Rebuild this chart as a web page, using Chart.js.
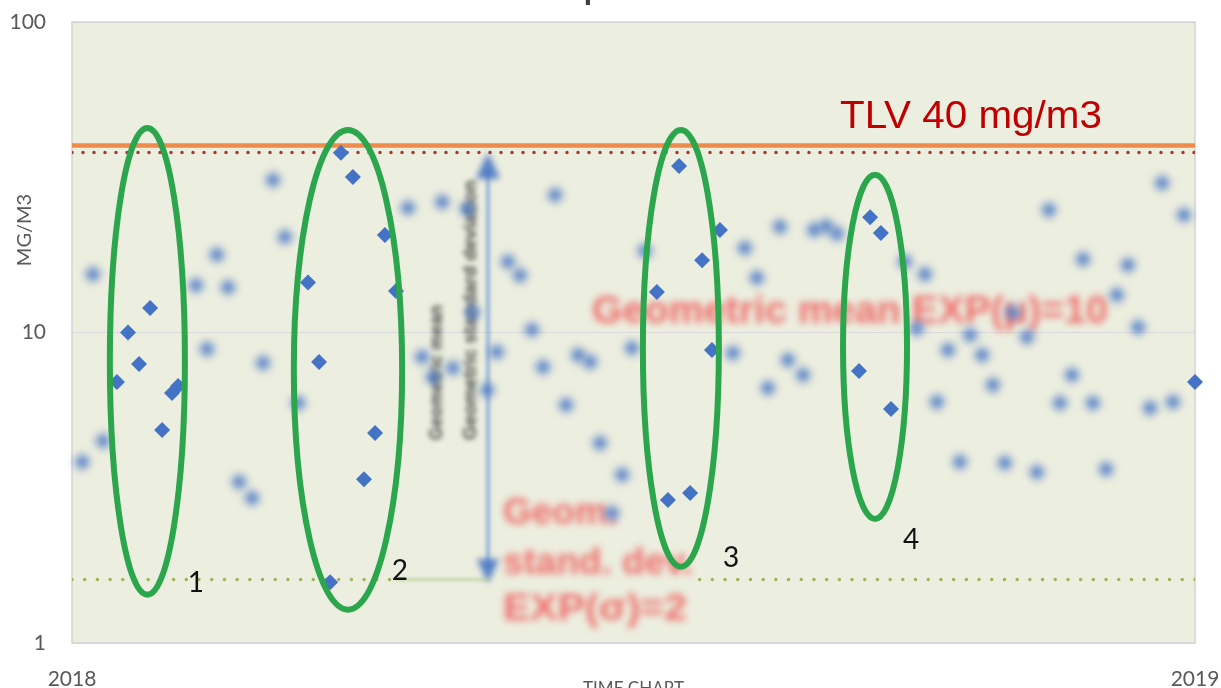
<!DOCTYPE html>
<html>
<head>
<meta charset="utf-8">
<script src="https://cdn.jsdelivr.net/npm/chart.js@4.4.1/dist/chart.umd.min.js"></script>
<style>
  html, body { margin: 0; padding: 0; width: 1221px; height: 688px; overflow: hidden; background: #fff; }
  #wrap { width: 1221px; height: 700px; }
</style>
</head>
<body>
<div id="wrap"><canvas id="c" width="1221" height="700"></canvas></div>
<script>
// Measurements: day of the year and concentration in mg/m3
const groupedDays = [14.6, 18.2, 25.4, 21.8, 32.5, 34.5, 29.3,
  87.4, 91.3, 101.7, 76.7, 80.3, 98.5, 94.9, 83.9, 105.3,
  197.3, 204.8, 210.6, 190.1, 208.0, 193.7, 200.9,
  259.4, 262.9, 255.8, 266.2, 365];
const groupedValues = [6.93, 10.0, 12.0, 7.92, 6.39, 6.73, 4.85,
  37.9, 31.7, 20.6, 14.5, 8.04, 4.75, 3.37, 1.57, 13.6,
  34.4, 17.1, 21.4, 13.5, 8.78, 2.89, 3.04,
  23.5, 20.9, 7.52, 5.67, 6.93];

const otherDays = [3.3, 6.8, 10.1, 40.3, 43.9, 47.1, 50.7, 54.3, 58.5, 62.1, 65.3, 69.2, 73.5,
  109.2, 120.3, 128.4, 113.8, 123.8, 117.3, 130.3, 138.1, 134.9, 141.7, 145.6, 149.5, 153.1,
  157.0, 160.6, 164.5, 168.4, 171.6, 175.5, 178.8, 182.0, 186.2,
  214.8, 218.7, 222.6, 226.2, 230.1, 232.7, 237.6, 241.2, 245.1, 248.6,
  270.7, 277.2, 274.6, 281.1, 284.7, 288.6, 291.9, 295.8, 299.3, 303.2, 305.8, 310.4, 313.6,
  317.5, 321.1, 325.0, 328.6, 331.8, 336.1, 339.6, 343.2, 346.5, 350.4, 354.3, 357.8, 361.4];
const otherValues = [3.83, 15.4, 4.47, 14.2, 8.85, 17.8, 14.0, 3.30, 2.93, 7.98, 31.0, 20.3, 5.93,
  25.2, 26.3, 25.0, 8.34, 7.69, 7.19, 11.6, 8.65, 6.53, 16.9, 15.3, 10.2, 7.74,
  27.7, 5.84, 8.46, 8.04, 4.41, 2.62, 3.48, 8.91, 18.3,
  8.59, 18.7, 15.0, 6.63, 21.9, 8.15, 7.30, 21.4, 22.0, 20.8,
  16.9, 15.4, 10.3, 5.97, 8.78, 3.83, 9.81, 8.46, 6.78, 3.80, 11.6, 9.67, 3.55,
  24.8, 5.93, 7.30, 17.2, 5.93, 3.63, 13.2, 16.5, 10.4, 5.71, 30.3, 5.97, 23.9];

const yTickValues = [1, 10, 100];
const xTickLabels = ['2018', '2019'];

// Reference levels (mg/m3)
const tlvLevel = 40;
const upperLevel = 38;
const lowerLevel = 1.6;

// Circled groups: centre day, half width in days, top and bottom value
const groupNames = ['1', '2', '3', '4'];
const groupCenters = [24.5, 89.7, 197.9, 261.0];
const groupHalfWidths = [12.2, 17.6, 12.35, 10.4];
const groupTops = [45.6, 44.9, 44.9, 32.2];
const groupBottoms = [1.43, 1.28, 1.76, 2.51];
const groupLabelDays = [40.3, 106.6, 214.2, 272.7];
const groupLabelValues = [1.56, 1.71, 1.88, 2.15];

const toPoints = (xs, ys) => xs.map((x, i) => ({ x: x, y: ys[i] }));
const flat = (v, a, b) => [{ x: a, y: v }, { x: b, y: v }];

const decor = {
  id: 'decor',
  beforeDraw(chart) {
    const { ctx, chartArea: a } = chart;
    ctx.save();
    ctx.fillStyle = '#eceedf';
    ctx.fillRect(a.left, a.top, a.right - a.left, a.bottom - a.top);
    ctx.restore();
  },
  beforeDatasetsDraw(chart) {
    const { ctx, chartArea: a } = chart;
    const xs = chart.scales.x, ys = chart.scales.y;
    const px = d => xs.getPixelForValue(d), py = v => ys.getPixelForValue(v);
    ctx.save();
    // plot frame
    ctx.strokeStyle = '#d3d3d3';
    ctx.lineWidth = 1.5;
    ctx.strokeRect(a.left, a.top, a.right - a.left, a.bottom - a.top);

    const fitText = (txt, x, y, width, font, color, blur) => {
      ctx.save();
      ctx.font = font;
      ctx.fillStyle = color;
      ctx.filter = 'blur(' + blur + 'px)';
      ctx.textBaseline = 'middle';
      const w = ctx.measureText(txt).width;
      ctx.translate(x, y);
      ctx.scale(width / w, 1);
      ctx.fillText(txt, 0, 0);
      ctx.restore();
    };
    // statistics notes
    fitText('Geometric mean EXP(\u03bc)=10', px(169), py(11.56), 516, 'bold 38px "Liberation Sans"', 'rgba(238,72,72,0.78)', 3.5);
    fitText('Geom.', px(140.1), py(2.60), 115, 'bold 37px "Liberation Sans"', 'rgba(238,72,72,0.78)', 3.5);
    fitText('stand. dev.', px(140.1), py(1.797), 190, 'bold 37px "Liberation Sans"', 'rgba(238,72,72,0.78)', 3.5);
    fitText('EXP(\u03c3)=2', px(140.1), py(1.277), 184, 'bold 37px "Liberation Sans"', 'rgba(238,72,72,0.78)', 3.5);

    // rotated captions next to the spread arrow
    const vText = (txt, d, v, len) => {
      ctx.save();
      ctx.font = 'bold 18px "Liberation Sans"';
      ctx.fillStyle = 'rgba(55,55,55,0.9)';
      ctx.filter = 'blur(2.5px)';
      ctx.textBaseline = 'middle';
      const w = ctx.measureText(txt).width;
      ctx.translate(px(d), py(v));
      ctx.rotate(-Math.PI / 2);
      ctx.scale(len / w, 1);
      ctx.fillText(txt, 0, 0);
      ctx.restore();
    };
    vText('Geometric mean', 118.6, 4.51, 135);
    vText('Geometric standard deviation', 129.7, 4.51, 260);

    // spread arrow
    const ax = px(135.2), at = py(37.9), ab = py(1.56);
    ctx.filter = 'blur(1.5px)';
    ctx.strokeStyle = 'rgba(120,160,215,0.6)';
    ctx.lineWidth = 5;
    ctx.beginPath();
    ctx.moveTo(ax, at + 20);
    ctx.lineTo(ax, ab - 20);
    ctx.stroke();
    ctx.filter = 'blur(3px)';
    ctx.fillStyle = 'rgba(68,114,196,0.9)';
    ctx.beginPath();
    ctx.moveTo(ax, at); ctx.lineTo(ax - 12, at + 26); ctx.lineTo(ax + 12, at + 26); ctx.closePath();
    ctx.fill();
    ctx.beginPath();
    ctx.moveTo(ax, ab); ctx.lineTo(ax - 11, ab - 24); ctx.lineTo(ax + 11, ab - 24); ctx.closePath();
    ctx.fill();
    ctx.restore();
  },
  afterDatasetsDraw(chart) {
    const { ctx } = chart;
    const xs = chart.scales.x, ys = chart.scales.y;
    const px = d => xs.getPixelForValue(d), py = v => ys.getPixelForValue(v);
    ctx.save();
    // circled groups
    ctx.strokeStyle = '#2ba64c';
    ctx.lineWidth = 6;
    groupCenters.forEach((c, i) => {
      const cx = px(c);
      const rx = px(c + groupHalfWidths[i]) - cx;
      const yt = py(groupTops[i]), yb = py(groupBottoms[i]);
      ctx.beginPath();
      ctx.ellipse(cx, (yt + yb) / 2, rx, (yb - yt) / 2, 0, 0, Math.PI * 2);
      ctx.stroke();
    });
    ctx.fillStyle = '#111';
    ctx.font = '28px Lato';
    ctx.textAlign = 'center';
    ctx.textBaseline = 'middle';
    groupNames.forEach((n, i) => ctx.fillText(n, px(groupLabelDays[i]), py(groupLabelValues[i])));

    // TLV caption
    ctx.font = '39px "Liberation Sans"';
    ctx.fillStyle = '#c00000';
    ctx.textAlign = 'left';
    ctx.textBaseline = 'alphabetic';
    const txt = 'TLV 40 mg/m3';
    const w = ctx.measureText(txt).width;
    ctx.translate(px(249.6), py(45.6));
    ctx.scale(262 / w, 1);
    ctx.fillText(txt, 0, 0);
    ctx.restore();
  },
  afterDraw(chart) {
    const { ctx } = chart;
    ctx.save();
    ctx.fillStyle = '#595959';
    ctx.font = '20px Lato';
    ctx.textAlign = 'center';
    ctx.textBaseline = 'middle';
    ctx.translate(25, 230);
    ctx.rotate(-Math.PI / 2);
    ctx.fillText('MG/M3', 0, 0);
    ctx.restore();
    ctx.save();
    ctx.fillStyle = '#404040';
    ctx.font = 'bold 30px "Liberation Sans"';
    ctx.textAlign = 'right';
    ctx.textBaseline = 'alphabetic';
    ctx.fillText('Group', 602, -1);
    ctx.restore();
  }
};

const blurLayer = {
  id: 'blurLayer',
  beforeDatasetDraw(chart, args) {
    const ds = chart.data.datasets[args.index];
    if (ds.blur) { chart.ctx.save(); chart.ctx.filter = 'blur(' + ds.blur + 'px)'; }
  },
  afterDatasetDraw(chart, args) {
    const ds = chart.data.datasets[args.index];
    if (ds.blur) chart.ctx.restore();
  }
};

const tickFont = { family: 'Lato', size: 21 };

new Chart(document.getElementById('c'), {
  type: 'scatter',
  data: {
    datasets: [
      { data: toPoints(groupedDays, groupedValues), pointStyle: 'rectRot', pointRadius: 8,
        backgroundColor: '#4472c4', borderWidth: 0, clip: false, order: 0 },
      { type: 'line', data: flat(upperLevel, 0, 365), borderColor: '#a8362b', borderWidth: 3.5,
        borderDash: [0, 11], borderCapStyle: 'round', pointRadius: 0, order: 1 },
      { type: 'line', data: flat(tlvLevel, 0, 365), borderColor: '#ee8a4a', borderWidth: 4.5,
        pointRadius: 0, order: 2 },
      { type: 'line', data: flat(lowerLevel, 0, 105), borderColor: '#9fb35e', borderWidth: 3.5,
        borderDash: [0, 12.7], borderCapStyle: 'round', pointRadius: 0, order: 3 },
      { type: 'line', data: flat(lowerLevel, 204, 365), borderColor: '#9fb35e', borderWidth: 3.5,
        borderDash: [0, 12.7], borderCapStyle: 'round', pointRadius: 0, order: 4 },
      { type: 'line', data: flat(lowerLevel, 105, 136), borderColor: 'rgba(170,200,130,0.55)', borderWidth: 3,
        pointRadius: 0, blur: 1.5, order: 5 },
      { data: toPoints(otherDays, otherValues), pointStyle: 'rectRot', pointRadius: 8.5,
        backgroundColor: 'rgba(68,114,196,0.9)', borderWidth: 0, clip: false, blur: 4, order: 6 }
    ]
  },
  options: {
    responsive: false,
    animation: false,
    events: [],
    layout: { padding: { top: 22, right: 26, left: 0, bottom: 0 } },
    plugins: { legend: { display: false }, tooltip: { enabled: false } },
    scales: {
      x: {
        type: 'linear', min: 0, max: 365,
        afterBuildTicks: s => { s.ticks = [{ value: 0 }, { value: 365 }]; },
        afterFit: s => { s.height = 57; s.paddingLeft = 0; s.paddingRight = 0; },
        ticks: { callback: (v, i) => xTickLabels[i], autoSkip: false, maxRotation: 0,
          font: tickFont, color: '#595959', padding: 24 },
        grid: { display: false, drawTicks: false },
        border: { display: false },
        title: { display: true, text: 'TIME CHART', font: { family: 'Lato', size: 17 },
          color: '#595959', padding: { top: 0, bottom: 1 } }
      },
      y: {
        type: 'logarithmic', min: 1, max: 100,
        afterBuildTicks: s => { s.ticks = yTickValues.map(v => ({ value: v })); },
        afterFit: s => { s.width = 72; s.paddingTop = 0; s.paddingBottom = 0; },
        ticks: { callback: v => String(v), font: tickFont, color: '#595959', padding: 26 },
        grid: { color: '#d9d9d9', lineWidth: 1, drawTicks: false },
        border: { display: false }
      }
    }
  },
  plugins: [decor, blurLayer]
});
</script>
</body>
</html>
